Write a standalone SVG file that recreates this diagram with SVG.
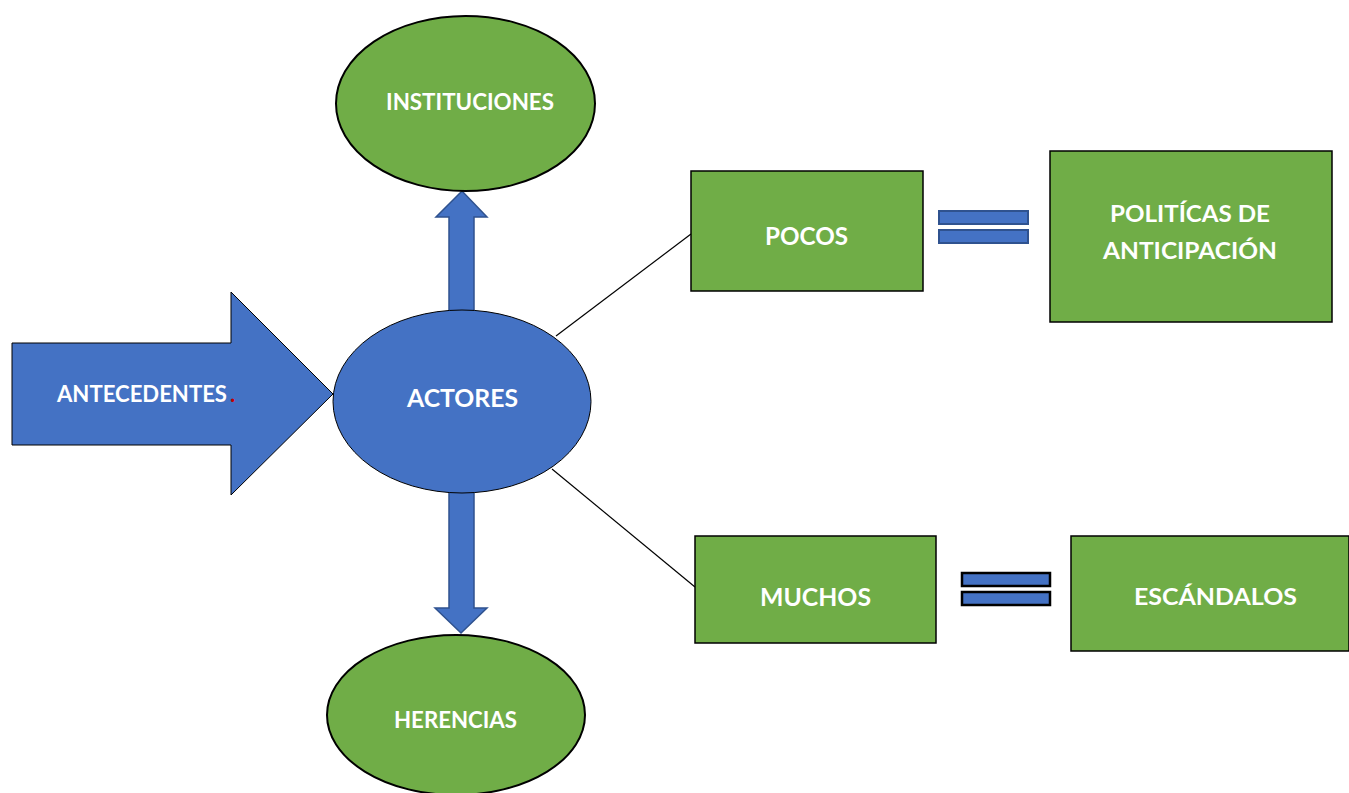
<svg xmlns="http://www.w3.org/2000/svg" width="1349" height="793" viewBox="0 0 1349 793">
<style>
.t{font-family:Lato,"Open Sans","Liberation Sans",sans-serif;font-weight:bold;fill:#ffffff;text-anchor:middle}
.green{fill:#70AD47;stroke:#000000;stroke-width:1.5}
.gell{fill:#70AD47;stroke:#000000;stroke-width:2}
.blue{fill:#4472C4;stroke:#000000;stroke-width:1}
.barr{fill:#4472C4;stroke:#2F528F;stroke-width:1.5}
.eqA{fill:#4472C4;stroke:#2F528F;stroke-width:2}
.eqB{fill:#4472C4;stroke:#000000;stroke-width:2.5}
.ln{stroke:#000000;stroke-width:1.2;fill:none}
</style>
<rect width="1349" height="793" fill="#ffffff"/>
<g id="connectors">
  <line class="ln" x1="556" y1="336" x2="691" y2="234"/>
  <line class="ln" x1="552" y1="469" x2="695" y2="587"/>
  <polygon class="barr" points="449,312 449,217 436,217 462,191 487,217 474,217 474,312"/>
  <polygon class="barr" points="449,490 474,490 474,608 487,608 461,633 435,608 449,608"/>
  <g id="eq1">
    <rect class="eqA" x="939" y="211" width="89" height="13"/>
    <rect class="eqA" x="939" y="230" width="89" height="13"/>
  </g>
  <g id="eq2">
    <rect class="eqB" x="962" y="573" width="88" height="13"/>
    <rect class="eqB" x="962" y="592" width="88" height="13"/>
  </g>
</g>
<g id="antecedentes">
  <polygon class="blue" points="12,343 231,343 231,292 333,394 231,495 231,445 12,445"/>
  <text class="t" x="142" y="402" font-size="22" textLength="170" lengthAdjust="spacingAndGlyphs">ANTECEDENTES</text>
  <text x="230" y="402" font-family="Lato,'Liberation Sans',sans-serif" font-weight="bold" font-size="22" fill="#C00000">.</text>
</g>
<g id="instituciones">
  <ellipse class="gell" cx="465.5" cy="103.5" rx="129.5" ry="87.5"/>
  <text class="t" x="470" y="110" font-size="22" textLength="168" lengthAdjust="spacingAndGlyphs">INSTITUCIONES</text>
</g>
<g id="actores">
  <ellipse class="blue" cx="462" cy="401.5" rx="129" ry="91.5"/>
  <text class="t" x="462.5" y="407" font-size="25" textLength="111" lengthAdjust="spacingAndGlyphs">ACTORES</text>
</g>
<g id="herencias">
  <ellipse class="gell" cx="456" cy="715" rx="129" ry="80"/>
  <text class="t" x="455.5" y="728" font-size="22" textLength="123" lengthAdjust="spacingAndGlyphs">HERENCIAS</text>
</g>
<g id="pocos">
  <rect class="green" x="691" y="171" width="232" height="120"/>
  <text class="t" x="806.5" y="245" font-size="24" textLength="83" lengthAdjust="spacingAndGlyphs">POCOS</text>
</g>
<g id="politicas">
  <rect class="green" x="1050" y="151" width="282" height="171"/>
  <text class="t" x="1190" y="222" font-size="22" textLength="160" lengthAdjust="spacingAndGlyphs">POLITÍCAS DE</text>
  <text class="t" x="1190" y="259" font-size="22" textLength="174" lengthAdjust="spacingAndGlyphs">ANTICIPACIÓN</text>
</g>
<g id="muchos">
  <rect class="green" x="695" y="536" width="241" height="107"/>
  <text class="t" x="815.5" y="606" font-size="24" textLength="111" lengthAdjust="spacingAndGlyphs">MUCHOS</text>
</g>
<g id="escandalos">
  <rect class="green" x="1071" y="536" width="278" height="115"/>
  <text class="t" x="1215.5" y="605" font-size="22" textLength="163" lengthAdjust="spacingAndGlyphs">ESCÁNDALOS</text>
</g>
</svg>
